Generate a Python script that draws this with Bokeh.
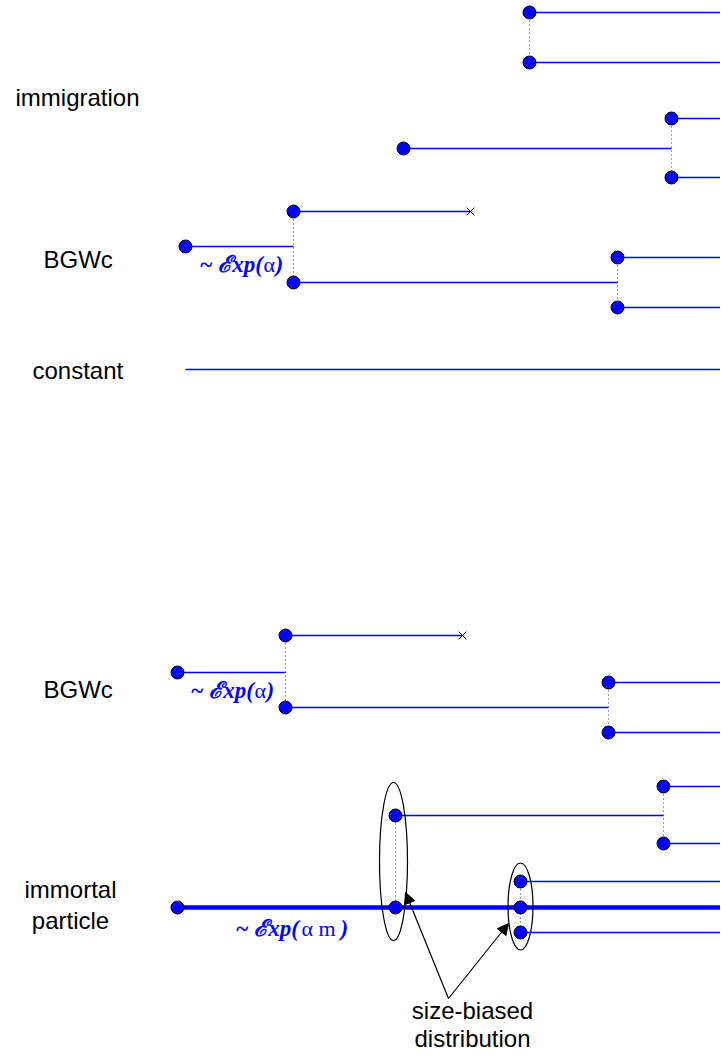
from bokeh.plotting import figure
from bokeh.models import Range1d, Arrow, NormalHead
from bokeh.core.properties import value
from bokeh.embed import file_html
from bokeh.resources import INLINE

# ---------------- data (diagram positions: time on x, level on y) ----------------
# branch nodes (split / birth points)
node_x = [529, 529, 403, 671, 671,            # immigration
          185, 293, 293, 617, 617,            # BGWc (top)
          177, 285, 285, 608, 608,            # BGWc (bottom)
          177, 395, 395, 663, 663, 520, 520, 520]  # immortal particle
node_y = [12, 62, 148, 118, 177,
          246, 211, 282, 257, 307,
          672, 635, 707, 682, 732,
          907, 815, 907, 786, 843, 881, 907, 932]

# thin life-lines: start, end, level
seg_x0 = [529, 529, 403, 671, 671,
          185, 293, 293, 617, 617,
          185,
          177, 285, 285, 608, 608,
          395, 663, 663, 520, 520]
seg_x1 = [728, 728, 671, 728, 728,
          293, 470, 617, 728, 728,
          728,
          285, 462, 608, 728, 728,
          663, 728, 728, 728, 728]
seg_y = [12, 62, 148, 118, 177,
         246, 211, 282, 257, 307,
         369,
         672, 635, 707, 682, 732,
         815, 786, 843, 881, 932]

# immortal (spine) line
spine_x0 = [177]
spine_x1 = [728]
spine_y = [907]

# dotted split connectors: x, y top, y bottom
dot_x = [529, 671, 293, 617, 285, 608, 395, 663, 520]
dot_y0 = [12, 118, 211, 257, 635, 682, 815, 786, 881]
dot_y1 = [62, 177, 282, 307, 707, 732, 907, 843, 932]

# deaths
death_x = [470, 462]
death_y = [211, 635]

# size-biased ellipses
ell_x = [393, 520]
ell_y = [861, 906]
ell_w = [28, 25]
ell_h = [158, 87]

# arrows: from -> to
arr_x0 = [448, 448]
arr_y0 = [998, 998]
arr_x1 = [405, 508]
arr_y1 = [892, 923]

# labels
label_text = ["immigration", "BGWc", "constant", "BGWc"]
label_x = [15, 43, 32, 43]
label_y = [97, 259, 370, 689]

center_text = ["immortal", "particle", "size-biased", "distribution"]
center_x = [70, 70, 472, 472]
center_y = [889, 920, 1010, 1038]

# rate annotations: "~ Exp(" part, rate symbol, closing parenthesis
rate_head = ["~ \u2130xp(", "~ \u2130xp(", "~ \u2130xp("]
rate_head_x = [199, 190, 235]
rate_sym = ["\u03b1", "\u03b1", "\u03b1 m"]
rate_sym_x = [263, 254, 301]
rate_tail = [")", ")", ")"]
rate_tail_x = [275, 266, 340]
rate_y = [264, 690, 928]

BLUE = "#0000ff"

p = figure(width=720, height=1053, output_backend="svg", toolbar_location=None,
           x_range=Range1d(0, 720), y_range=Range1d(1053, 0),
           min_border=0)
p.axis.visible = False
p.xgrid.visible = False
p.ygrid.visible = False
p.outline_line_color = None
p.background_fill_color = "white"
p.border_fill_color = "white"

# dotted connectors
p.segment(x0=dot_x, y0=dot_y0, x1=dot_x, y1=dot_y1, line_color="#444444",
          line_width=1, line_dash="1 3")

# life-lines
p.segment(x0=seg_x0, y0=seg_y, x1=seg_x1, y1=seg_y, line_color=BLUE, line_width=1.3)
p.segment(x0=spine_x0, y0=spine_y, x1=spine_x1, y1=spine_y, line_color=BLUE, line_width=4.5)

# deaths
p.scatter(death_x, death_y, marker="x", size=11, line_color="black", line_width=1)

# ellipses
p.ellipse(x=ell_x, y=ell_y, width=ell_w, height=ell_h, fill_color=None,
          line_color="black", line_width=1.2)

# nodes
p.scatter(node_x, node_y, size=13, fill_color=BLUE, line_color="black", line_width=1)

# arrows
for xs, ys, xe, ye in zip(arr_x0, arr_y0, arr_x1, arr_y1):
    p.add_layout(Arrow(end=NormalHead(size=11, fill_color="black", line_color="black"),
                       x_start=xs, y_start=ys, x_end=xe, y_end=ye,
                       line_color="black", line_width=1.2))

# labels
p.text(x=label_x, y=label_y, text=label_text, text_font=value("Liberation Sans"),
       text_font_size="24px", text_align="left", text_baseline="middle", text_color="black")
p.text(x=center_x, y=center_y, text=center_text, text_font=value("Liberation Sans"),
       text_font_size="24px", text_align="center", text_baseline="middle", text_color="black")

# rate annotations
p.text(x=rate_head_x, y=rate_y, text=rate_head, text_font=value("Liberation Serif"),
       text_font_size="23px", text_font_style="bold italic", text_align="left",
       text_baseline="middle", text_color=BLUE)
p.text(x=rate_sym_x, y=rate_y, text=rate_sym, text_font=value("Liberation Serif"),
       text_font_size="22px", text_font_style="normal", text_align="left",
       text_baseline="middle", text_color=BLUE)
p.text(x=rate_tail_x, y=rate_y, text=rate_tail, text_font=value("Liberation Serif"),
       text_font_size="23px", text_font_style="bold italic", text_align="left",
       text_baseline="middle", text_color=BLUE)

open("out.html", "w").write(file_html(p, INLINE))
